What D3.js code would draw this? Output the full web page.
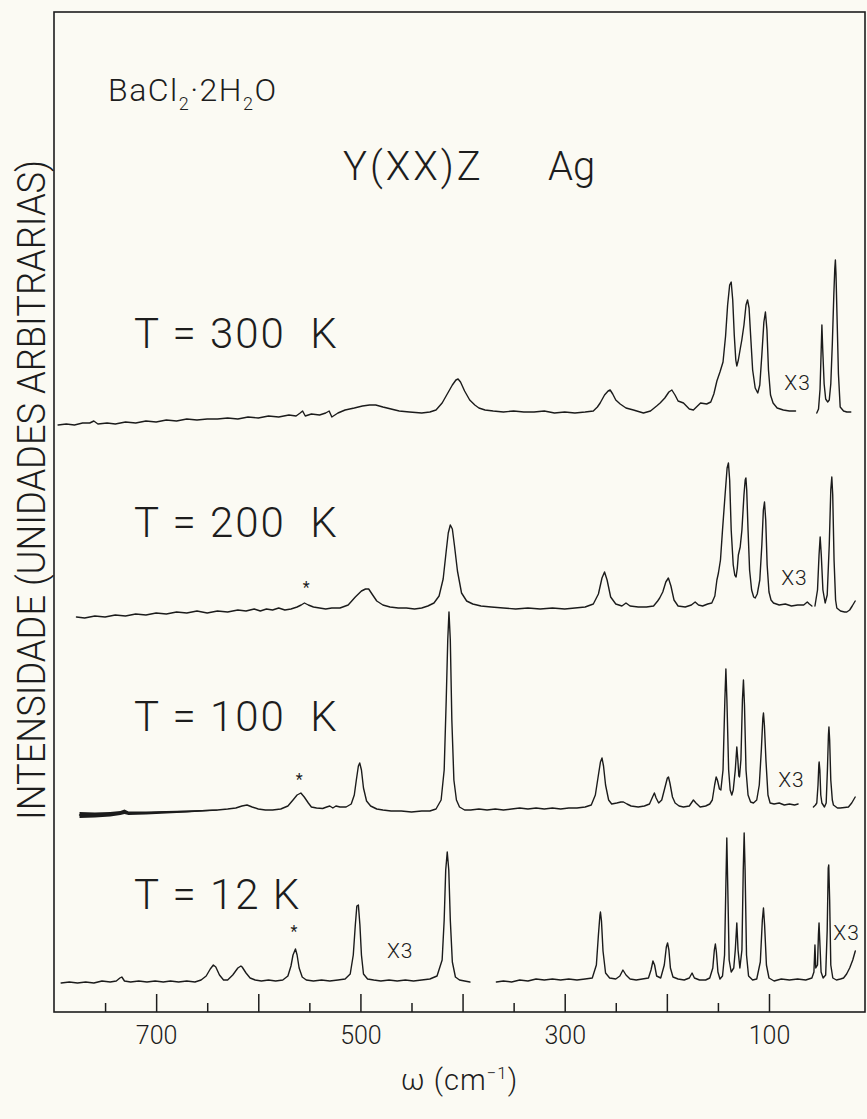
<!DOCTYPE html>
<html>
<head>
<meta charset="utf-8">
<script src="https://cdn.jsdelivr.net/npm/d3@7"></script>
<style>
  html, body { margin: 0; padding: 0; background: #fbfaf3; }
  svg { display: block; }
  text { font-family: Roboto, "DejaVu Sans", sans-serif; font-weight: 300; fill: #1d1d1d; }
</style>
</head>
<body>
<svg id="chart" width="867" height="1119"></svg>
<script>
// Raman spectra of BaCl2·2H2O, Y(XX)Z Ag geometry, at four temperatures.
// Each point is [wavenumber (cm-1), intensity above the trace's own baseline].

// ---- T = 300 K ----
const t300a = [[796,-11],[788,-10],[780,-11],[772,-9],[765,-9],[761,-7],[757,-10],[748,-9],[740,-10],[730,-8],[720,-9],[710,-7],[700,-8],[690,-6],[680,-7],[670,-5],[660,-6],[650,-5],[640,-5],[630,-4],[620,-5],[610,-3],[600,-4],[590,-2],[580,-3],[570,-1],[563,-2],[559,1],[556.6,3],[554,-2],[548,0],[540,-1],[534,1],[530.6,3],[528,-3],[522,1],[515,4],[506,6],[498,8],[491,9],[485,9],[478,7],[470,5],[462,3],[452,2],[440,1],[432,2],[426,4],[420,11],[415,20],[410,29],[406.5,34],[404.4,35],[402,32],[398,23],[393,14],[388,9],[384,6],[378,4],[370,3],[360,2],[350,3],[340,2],[330,2],[320,3],[310,1],[300,2],[290,1],[280,2],[272,3],[268,7],[265.3,11],[261,19],[257.5,23],[255.5,24],[253,20],[250,14],[245.7,10],[240,6],[232.7,4],[222.9,1],[216,3],[210,8],[206.6,11],[202,16],[198,22],[195.1,24],[192,19],[189,13],[183.7,11],[178,5],[174,4],[170,8],[167,11],[161,10],[157,12],[154,20],[151,33],[148,42],[145,52],[142.5,78],[140.5,109],[138.5,129],[137,132],[135.5,114],[134,79],[132.5,54],[131.5,48],[130,54],[128,66],[126.6,74],[124.5,89],[122.5,109],[121,114],[119.5,106],[118,79],[116,44],[113.5,26],[111,21],[109,29],[107,59],[105,92],[103.5,102],[102,84],[100.5,44],[98.5,19],[96,11],[92,6],[86,4],[80,3],[74,3]];
const t300b = [[53.2,1],[51.5,5],[50,25],[49,60],[48.2,89],[47.4,65],[46,30],[44.5,15],[42.5,12],[41,14],[39.5,30],[38,70],[36.5,120],[35.6,145],[35,154],[34.4,140],[33.2,90],[32,40],[30.3,7],[27,3],[23.8,2],[19.9,2]];

// ---- T = 200 K ----
const t200a = [[778,-8],[770,-9],[760,-7],[750,-8],[740,-6],[730,-7],[720,-5],[710,-6],[700,-4],[690,-5],[680,-3],[670,-4],[660,-2],[650,-4],[640,-2],[630,-3],[620,-1],[612,-2],[604,0],[598,-2],[592,0],[586,-1],[580,1],[574,-1],[568,0],[562,2],[558,4],[554.8,6],[551,4],[546,2],[540,1],[534,0],[528,1],[520,1],[512,4],[505,12],[499,18],[495,20],[491.9,20],[488,14],[484,8],[478,4],[471,2],[463,1],[455,1],[447,0],[440,1],[434,3],[428,6],[423,13],[419,30],[416,58],[414,76],[412,84],[410,80],[408,64],[405,38],[401,16],[396,8],[390,5],[382,3],[372,2],[360,1],[348,0],[336,1],[324,0],[312,1],[300,0],[290,1],[280,2],[272,5],[267,15],[263.5,31],[261,37],[258.5,29],[255,12],[250,5],[244,3],[240,6],[236,3],[228,2],[220,2],[213,3],[209,8],[207,11],[204,17],[201,27],[198.5,31],[196,23],[193,9],[189,3],[182,2],[176,4],[172.3,7],[169,4],[165,3],[160,5],[156,6],[153,13],[151,29],[149.5,36],[147.5,49],[145.5,79],[143,114],[141,141],[139.7,146],[138.5,129],[137,79],[135,44],[133.5,34],[132.2,32],[131,41],[130,54],[128.2,62],[126.5,79],[124.5,114],[123.3,129],[122.6,131],[121.8,119],[120.5,79],[119,39],[117,19],[115,12],[113.5,11],[111.5,15],[109,29],[107,64],[105.5,99],[104.4,107],[103.2,89],[101.8,44],[100,17],[98,9],[95.6,6],[90,4],[84,5],[78,3],[72,4],[66,4],[62.5,7],[60.5,5],[58,3]];
const t200b = [[55,3],[52.5,19],[51,54],[49.9,72],[48.8,54],[47.2,19],[45,6],[43,14],[41,64],[39.5,119],[38.5,132],[37.6,114],[36.3,49],[34.8,9],[33.6,1],[30,-2],[26,-3],[23.8,-3],[21,-1],[18.5,3],[15.6,8]];

// ---- T = 100 K ----
const t100a = [[775,-6],[760,-6],[745,-5],[735,-4],[731,-2.5],[727,-4],[710,-4],[690,-3],[670,-2.5],[655,-1.8],[640,-1],[630,0],[622,1],[616,3],[611,4],[606,2],[600,0],[593,-1],[586,-1],[578,0],[571,3],[566,9],[562,14],[558.3,16],[555,12],[551,6],[548,2],[543,1],[537,0.5],[533,2],[530,3],[527,1],[524,3],[520,2],[514,2],[509,5],[506,14],[504,29],[502,43],[500.7,46],[499,39],[497,21],[494,8],[490,3],[484,0],[478,-1],[470,-2],[460,-2],[450,-3],[440,-2],[432,-2],[426,0],[421,9],[418,39],[416,109],[414.5,169],[413.3,197],[412,169],[410.5,89],[408.5,29],[406,9],[403,2],[398,-1],[392,-1],[384,0],[376,-1],[368,0],[360,-1],[352,0],[344,1],[336,0],[328,1],[320,0],[312,1],[304,0],[296,1],[288,1],[280,2],[274,4],[270,14],[267,34],[265,47],[263.5,51],[262,43],[260,24],[257,9],[254,5],[249,6],[245,7],[242.5,7],[239,5],[235,3],[228,2],[222,3],[217,5],[214,12],[212.2,16],[210.5,11],[208,6],[205,9],[202,21],[199.5,31],[198.4,32],[197,26],[194.5,12],[191.9,6],[188,3],[183.7,2],[178,3],[176,6],[174,9],[171.5,6],[167.4,2],[162,3],[158,5],[155.5,9],[153.2,24],[151.7,32],[150.5,29],[148.5,20],[147.1,19],[145,39],[143.2,109],[142.2,140],[141.2,109],[139.5,39],[138,19],[136.4,14],[135,19],[133,39],[131.5,62],[130.5,49],[129.5,33],[128.9,32],[127.5,49],[126,109],[125,129],[124,104],[122.5,39],[120.5,14],[118,7],[115.2,6],[112,9],[109.5,24],[107.5,59],[106,91],[105.4,96],[104.5,84],[103,49],[101,14],[98.9,6],[95,5],[90,6],[85,4],[80,5],[75,4],[71.5,5]];
const t100b = [[56.5,2],[54.5,4],[53.2,6],[52,24],[51.2,44],[50.9,47],[50.2,39],[49.3,14],[48.2,6],[45.7,2],[44,6],[42.8,39],[41.8,74],[41.3,82],[40.6,69],[39.5,29],[38,9],[36.9,4],[33,1],[30.3,1],[26,1.5],[22.2,2],[19,6],[15.6,12]];
// heavy pen start of the 100 K trace: [wavenumber, lower edge, upper edge]
const t100pen = [[775,-9,-3],[760,-8.5,-3.5],[745,-7.5,-3],[735,-6,-2],[731,-5,-0.5],[727,-6,-2.5],[710,-5.5,-2.5],[690,-4.5,-2],[670,-3.5,-1.5],[655,-2.5,-1],[640,-1.5,-0.5]];

// ---- T = 12 K ----
const t12a = [[793,-2],[785,-1],[777,-2],[769,-1],[761,-2],[753,0],[745,-1],[739,0],[735.5,3],[733.6,4],[731,0],[725,-1],[717,0],[709,-1],[701,0],[693,-1],[686,0],[678,-1],[670,0],[662,-1],[656,1],[651,5],[647,12],[644,16],[641.6,14],[638,6],[634,1],[630,1],[625,6],[620,13],[617,15],[615.8,14],[612,8],[608,3],[603,1],[597,0],[590,1],[583,0],[576,1],[571,5],[568,15],[566,26],[563.6,32],[562,26],[560,13],[557,4],[553,1],[546,0],[538,1],[530,0],[522,1],[515,2],[510,7],[507,26],[505,56],[503.5,75],[502,76],[500.5,56],[499,26],[497,7],[493,2],[487,1],[480,0],[472,1],[464,0],[456,1],[448,0],[440,1],[432,2],[425,5],[420,21],[418,61],[416.5,111],[415,129],[413.5,111],[412,61],[410,19],[407,4],[403,1],[398,0],[392.8,-1]];
const t12b = [[366.9,-1],[360,0],[352,-1],[344,1],[336,0],[328,2],[320,1],[312,2],[304,1],[296,2],[288,1],[280,2],[273,3],[269,16],[267,46],[265.5,66],[265,69],[264,60],[262.5,30],[260,8],[256,3],[250,2],[246,5],[243,11],[240,6],[236,2],[230,1],[224,2],[218,3],[215.5,11],[213.6,20],[212,16],[210,5],[206,3],[202.5,16],[200.5,34],[199.3,38],[198,31],[196.5,13],[194,4],[189,2],[183,1],[178,3],[175.3,8],[173,3],[168,1],[162,1],[158,3],[155,13],[153.5,31],[152.5,37],[151.5,29],[150,9],[148,2],[145.5,5],[143.5,26],[142.3,91],[141.3,143],[140.3,91],[139,21],[137,9],[134.5,13],[133,31],[131.5,58],[130.3,31],[128.5,13],[126.5,31],[125.2,111],[124.3,148],[123.4,111],[122,26],[120,5],[116,1],[112,2],[108.5,19],[106.5,61],[105.4,73],[104.3,56],[102.5,16],[100,3],[95,0],[88,2],[80,1],[72,2],[64,1],[58,3],[56,9],[55,36],[54.2,13],[52.5,16],[51.6,46],[51,58],[50.3,41],[49,9],[47,3],[44.5,6],[43,51],[42,113],[41.5,116],[40.6,81],[39.5,16],[37.5,3],[34,1],[30,2],[27,3],[24,7],[21,13],[18,21],[15.5,30]];

// baseline level of each trace on the common intensity axis
const traceNames   = ["T = 300  K", "T = 200  K", "T = 100  K", "T = 12 K"];
const traceOffsets = [598, 403, 203, 31];
const traceSegments = [[t300a, t300b], [t200a, t200b], [t100a, t100b], [t12a, t12b]];

// gain-change marks: [trace index, wavenumber, height above baseline]
const gainMarks = [[3, 461, 23], [3, 24, 41], [2, 78, 22], [1, 75, 24], [0, 72, 24]];
// plasma-line asterisks: [trace index, wavenumber, height above baseline]
const starMarks = [[3, 565, 44], [2, 560, 24], [1, 553, 16]];

// axis ticks
const majorTicks = [700, 600, 500, 400, 300, 200, 100];
const minorTicks = [750, 650, 550, 450, 350, 250, 150];
const tickLabels = [700, 500, 300, 100];

// ---------------- drawing ----------------
const frame = { left: 54, right: 865, top: 12, bottom: 1012 };
const svg = d3.select("#chart");

const x = d3.scaleLinear().domain([800, 6]).range([frame.left, frame.right]);
const y = d3.scaleLinear().domain([0, 1000]).range([frame.bottom, frame.top]);

// frame
svg.append("rect")
  .attr("x", frame.left).attr("y", frame.top)
  .attr("width", frame.right - frame.left).attr("height", frame.bottom - frame.top)
  .attr("fill", "none").attr("stroke", "#1d1d1d").attr("stroke-width", 1.6);

// bottom axis: long ticks every 100 cm-1, short ticks in between, pointing inward
const axisMajor = d3.axisBottom(x).tickValues(majorTicks).tickSize(-18).tickPadding(14)
  .tickFormat(d => tickLabels.includes(d) ? String(d) : "");
const axisMinor = d3.axisBottom(x).tickValues(minorTicks).tickSize(-9).tickFormat(() => "");

const gMaj = svg.append("g").attr("transform", `translate(0,${frame.bottom})`).call(axisMajor);
const gMin = svg.append("g").attr("transform", `translate(0,${frame.bottom})`).call(axisMinor);
[gMaj, gMin].forEach(g => {
  g.select(".domain").remove();
  g.selectAll(".tick line").attr("stroke", "#1d1d1d").attr("stroke-width", 1.5);
});
gMaj.selectAll(".tick text")
  .attr("fill", "#1d1d1d").style("font-size", "25px").style("font-family", "Roboto, 'DejaVu Sans', sans-serif")
  .style("font-weight", 300);

// axis titles
const xt = svg.append("text")
  .attr("x", (frame.left + frame.right) / 2).attr("y", 1090)
  .attr("text-anchor", "middle").style("font-size", "29px").style("letter-spacing", "1px");
xt.append("tspan").text("ω (cm");
xt.append("tspan").attr("dy", -11).style("font-size", "17px").text("−1");
xt.append("tspan").attr("dy", 11).text(")");

svg.append("text")
  .attr("transform", `translate(45,${490}) rotate(-90)`)
  .attr("text-anchor", "middle")
  .attr("textLength", 660).attr("lengthAdjust", "spacingAndGlyphs")
  .style("font-size", "39px")
  .text("INTENSIDADE (UNIDADES ARBITRARIAS)");

// compound and scattering geometry
const title = svg.append("text").attr("x", 108).attr("y", 101)
  .style("font-size", "32px").style("letter-spacing", "1.5px");
title.append("tspan").text("BaCl");
title.append("tspan").attr("dy", 9).style("font-size", "18px").text("2");
title.append("tspan").attr("dy", -9).text("·2H");
title.append("tspan").attr("dy", 9).style("font-size", "18px").text("2");
title.append("tspan").attr("dy", -9).text("O");

svg.append("text").attr("x", 343).attr("y", 180)
  .style("font-size", "40px").style("letter-spacing", "3px").text("Y(XX)Z");
svg.append("text").attr("x", 548).attr("y", 180)
  .style("font-size", "40px").text("Ag");

// temperature labels
const labelBaselines = [348, 537, 731, 909];
traceNames.forEach((name, i) => {
  svg.append("text").attr("x", 134).attr("y", labelBaselines[i])
    .style("font-size", "42px").style("letter-spacing", "2px")
    .style("white-space", "pre").text(name);
});

// spectra
const traces = svg.append("g").attr("fill", "none").attr("stroke", "#1b1b1b")
  .attr("stroke-width", 1.4).attr("stroke-linejoin", "round").attr("stroke-linecap", "round");

traceSegments.forEach((segs, i) => {
  const off = traceOffsets[i];
  const line = d3.line().x(d => x(d[0])).y(d => y(off + d[1]));
  segs.forEach(seg => traces.append("path").attr("d", line(seg)));
});

// heavy pen start on the 100 K trace
const pen = d3.area().x(d => x(d[0]))
  .y0(d => y(traceOffsets[2] + d[1])).y1(d => y(traceOffsets[2] + d[2]));
svg.append("path").attr("d", pen(t100pen)).attr("fill", "#1b1b1b");

// x3 gain marks
gainMarks.forEach(([ti, w, h]) => {
  svg.append("text").attr("x", x(w)).attr("y", y(traceOffsets[ti] + h))
    .attr("text-anchor", "middle").style("font-size", "21px").style("letter-spacing", "1px").text("X3");
});

// asterisks
starMarks.forEach(([ti, w, h]) => {
  svg.append("text").attr("x", x(w)).attr("y", y(traceOffsets[ti] + h))
    .attr("text-anchor", "middle").style("font-size", "16px").style("font-weight", 400).text("*");
});
</script>
</body>
</html>
